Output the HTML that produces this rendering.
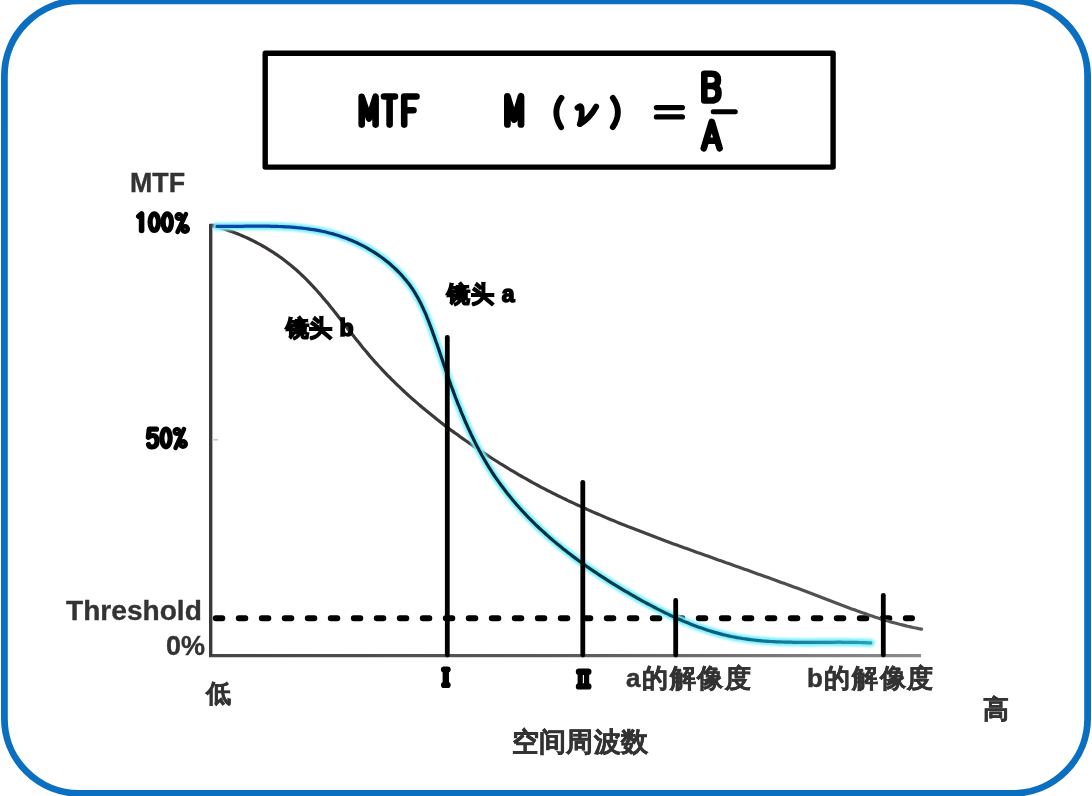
<!DOCTYPE html>
<html><head><meta charset="utf-8">
<style>
html,body{margin:0;padding:0;background:#fff;}
body{width:1092px;height:796px;position:relative;overflow:hidden;font-family:"Liberation Sans",sans-serif;}
svg{position:absolute;left:0;top:0;}
.t{position:absolute;white-space:nowrap;color:#333;font-weight:bold;line-height:1;will-change:transform;}
.cj{-webkit-text-stroke:0.5px #333;}
.lt{-webkit-text-stroke:0.35px #333;}
.hv{color:#000;-webkit-text-stroke:1.6px #000;}
</style></head><body>
<svg width="1092" height="796" viewBox="0 0 1092 796">
  <!-- outer rounded border -->
  <rect x="4.4" y="0.8" width="1083.2" height="792.6" rx="75" ry="75" fill="none" stroke="#0a6fc1" stroke-width="6.8"/>
  <!-- formula box -->
  <rect x="265.2" y="53.2" width="567.9" height="113.9" stroke-linejoin="round" fill="none" stroke="#000" stroke-width="5.4"/>
  <g fill="none" stroke="#000" stroke-linecap="round" stroke-linejoin="round">
    <!-- MTF -->
    <path d="M361.7,124.6 V96.7 L369,118.5 L375.6,96.7 V124.6" stroke-width="6.6"/>
    <path d="M384,96.5 H395 M389.6,96.5 V124.6" stroke-width="6.6"/>
    <path d="M404.2,124.6 V96.5 H416.5 M404.2,110.3 H413.5" stroke-width="6.6"/>
    <!-- M -->
    <path d="M507.4,124.4 V96.3 L514.2,119.5 L521,96.3 V124.4" stroke-width="6.8"/>
    <!-- ( v ) -->
    <path d="M561.5,97.8 Q551.3,112 561.1,127.2" stroke-width="5.8"/>
    <path d="M612.8,97.8 Q623,112 612.8,127.2" stroke-width="5.8"/>
    <path d="M577.5,107.8 Q580.5,104.5 581.5,108 Q582.5,117 579.8,124.2 Q590,118 596.2,106.5" stroke-width="5.8"/>
    <!-- = -->
    <path d="M656.5,107.6 H682.3 M656.5,116.9 H682.3" stroke-width="5.4"/>
    <!-- fraction bar -->
    <path d="M713.2,111.7 H735.3" stroke-width="5"/>
    <!-- B -->
    <path d="M704.3,100.5 V73.7 H711.5 Q718,73.7 718,80 Q718,86 711.5,86 H704.3 M711.5,86 Q718.5,86 718.5,93 Q718.5,100.5 711.5,100.5 H704.3" stroke-width="6.6"/>
    <!-- A -->
    <path d="M703.8,148.3 L711.8,121.8 L719.6,148.3 M707.5,140.8 H716" stroke-width="6.6"/>
    <!-- 100% -->
    <path d="M138.8,216.3 L141.6,214 V230.5" stroke-width="5.6"/>
    <ellipse cx="154.3" cy="222.1" rx="4.2" ry="8.3" stroke-width="5.2"/>
    <ellipse cx="167.3" cy="222.1" rx="4.2" ry="8.3" stroke-width="5.2"/>
    <path d="M186,214 L177.5,232" stroke-width="4.5"/>
    <circle cx="179" cy="216.5" r="2.6" stroke-width="4"/>
    <circle cx="185" cy="229" r="2.8" stroke-width="4.5"/>
    <!-- 50% -->
    <path d="M156.5,429.2 H149.2 L148.3,437.3 Q151,435.5 153,435.5 Q157,435.5 157,441 Q157,447 152,447 Q149,447 148.5,444.5" stroke-width="5.2"/>
    <ellipse cx="166" cy="438" rx="4.2" ry="8.8" stroke-width="5.3"/>
    <path d="M184,429 L175.5,448" stroke-width="4.5"/>
    <circle cx="177" cy="431.5" r="2.6" stroke-width="4"/>
    <circle cx="183" cy="444" r="2.8" stroke-width="4.5"/>
    <!-- roman numerals -->
    <path d="M444,669.6 H447.6 M445.8,670 V685 M444,685 H447.6" stroke-width="6.2"/><path d="M445.8,672 V683" stroke-width="5.8"/>
    <path d="M579,671.8 H588.3 M579,686.4 H588.3" stroke-width="6.4"/><path d="M580.2,672 V686.5 M586.6,672 V686.5" stroke-width="5.2"/>
  </g>
  <!-- axes -->
  <defs><linearGradient id="gray" gradientUnits="userSpaceOnUse" x1="210" y1="0" x2="921" y2="0">
      <stop offset="0" stop-color="#3a3638"/><stop offset="0.5" stop-color="#3d3a3e"/><stop offset="1" stop-color="#5a585a"/></linearGradient>
  <linearGradient id="xax" gradientUnits="userSpaceOnUse" x1="210" y1="0" x2="921" y2="0">
      <stop offset="0" stop-color="#444"/><stop offset="0.5" stop-color="#5a5a5a"/><stop offset="1" stop-color="#8c8c8c"/></linearGradient></defs>
  <path d="M209,655.6 H921" fill="none" stroke="url(#xax)" stroke-width="3.4"/>
  <path d="M210.7,655.5 V225.5 H218" fill="none" stroke="#3a3a3a" stroke-width="3.4" stroke-linejoin="round"/>
  <path d="M212,439.8 H218" stroke="#c8c8c8" stroke-width="1.6"/>
  <!-- threshold dashed -->
  <path d="M215.8,618.3 H912" fill="none" stroke="#000" stroke-width="6" stroke-linecap="round" stroke-dasharray="6.5 16.5"/>
  <!-- lens b curve -->
  <path d="M210.6,225.3 L213.3,225.9 L216.1,226.7 L218.8,227.4 L221.5,228.2 L224.2,229.1 L226.9,230.0 L229.6,230.9 L232.3,231.8 L234.9,232.8 L237.5,233.8 L240.1,234.9 L242.7,236.0 L245.3,237.1 L247.9,238.3 L250.4,239.5 L252.9,240.7 L255.4,242.0 L257.9,243.3 L260.4,244.6 L262.8,246.0 L265.2,247.4 L267.6,248.9 L270.0,250.3 L272.4,251.8 L274.7,253.4 L277.0,254.9 L279.3,256.5 L281.6,258.1 L283.8,259.8 L286.0,261.5 L288.2,263.2 L290.4,264.9 L292.5,266.7 L294.6,268.5 L296.7,270.3 L298.8,272.2 L300.8,274.1 L302.8,276.0 L304.8,277.9 L306.8,279.9 L308.7,281.9 L310.6,283.9 L312.5,285.9 L314.4,287.9 L316.3,290.0 L318.1,292.0 L320.0,294.1 L321.8,296.2 L323.6,298.4 L325.4,300.5 L327.2,302.6 L329.0,304.8 L330.7,307.0 L332.5,309.1 L334.2,311.3 L336.0,313.5 L337.7,315.7 L339.4,317.9 L341.1,320.1 L342.9,322.3 L344.6,324.5 L346.3,326.7 L348.0,329.0 L349.7,331.2 L351.5,333.4 L353.2,335.6 L354.9,337.8 L356.7,340.0 L358.4,342.1 L360.2,344.3 L361.9,346.5 L363.7,348.7 L365.5,350.8 L367.3,352.9 L369.1,355.1 L370.9,357.2 L372.7,359.3 L374.5,361.4 L376.4,363.4 L378.3,365.5 L380.2,367.5 L382.1,369.6 L384.0,371.6 L385.9,373.6 L387.8,375.6 L389.8,377.5 L391.7,379.5 L393.7,381.4 L395.7,383.4 L397.7,385.3 L399.7,387.2 L401.7,389.1 L403.7,391.0 L405.7,392.9 L407.8,394.8 L409.8,396.6 L411.9,398.5 L414.0,400.3 L416.1,402.1 L418.2,403.9 L420.3,405.7 L422.4,407.5 L424.6,409.3 L426.7,411.1 L428.8,412.8 L431.0,414.6 L433.2,416.3 L435.3,418.0 L437.5,419.8 L439.7,421.5 L441.9,423.2 L444.1,424.9 L446.4,426.6 L448.6,428.2 L450.8,429.9 L453.1,431.6 L455.3,433.2 L457.6,434.8 L459.8,436.5 L462.1,438.1 L464.4,439.7 L466.7,441.3 L469.0,442.9 L471.3,444.5 L473.6,446.1 L475.9,447.7 L478.2,449.3 L480.5,450.8 L482.9,452.4 L485.2,453.9 L487.5,455.4 L489.9,457.0 L492.2,458.5 L494.6,460.0 L497.0,461.5 L499.3,463.0 L501.7,464.5 L504.1,465.9 L506.5,467.4 L508.9,468.9 L511.3,470.3 L513.7,471.7 L516.1,473.1 L518.5,474.6 L521.0,476.0 L523.4,477.3 L525.8,478.7 L528.3,480.1 L530.7,481.5 L533.2,482.8 L535.6,484.1 L538.1,485.5 L540.5,486.8 L543.0,488.1 L545.5,489.4 L548.0,490.7 L550.5,491.9 L552.9,493.2 L555.4,494.4 L557.9,495.7 L560.4,496.9 L562.9,498.1 L565.4,499.3 L568.0,500.6 L570.5,501.7 L573.0,502.9 L575.5,504.1 L578.0,505.3 L580.6,506.4 L583.1,507.6 L585.7,508.7 L588.2,509.9 L590.7,511.0 L593.3,512.1 L595.8,513.2 L598.4,514.3 L601.0,515.4 L603.5,516.5 L606.1,517.6 L608.6,518.7 L611.2,519.8 L613.8,520.8 L616.4,521.9 L618.9,522.9 L621.5,524.0 L624.1,525.0 L626.7,526.0 L629.3,527.1 L631.9,528.1 L634.5,529.1 L637.1,530.1 L639.7,531.1 L642.3,532.1 L644.9,533.1 L647.5,534.1 L650.1,535.1 L652.7,536.1 L655.3,537.1 L657.9,538.1 L660.5,539.0 L663.1,540.0 L665.7,541.0 L668.4,541.9 L671.0,542.9 L673.6,543.9 L676.2,544.8 L678.8,545.8 L681.5,546.7 L684.1,547.7 L686.7,548.6 L689.3,549.6 L692.0,550.5 L694.6,551.4 L697.2,552.4 L699.8,553.3 L702.5,554.3 L705.1,555.2 L707.7,556.1 L710.4,557.1 L713.0,558.0 L715.6,558.9 L718.2,559.9 L720.9,560.8 L723.5,561.7 L726.1,562.7 L728.8,563.6 L731.4,564.5 L734.0,565.5 L736.7,566.4 L739.3,567.3 L741.9,568.2 L744.5,569.2 L747.2,570.1 L749.8,571.1 L752.4,572.0 L755.1,572.9 L757.7,573.9 L760.3,574.8 L762.9,575.7 L765.6,576.7 L768.2,577.6 L770.8,578.6 L773.4,579.5 L776.1,580.5 L778.7,581.4 L781.3,582.4 L783.9,583.3 L786.5,584.3 L789.2,585.2 L791.8,586.2 L794.4,587.2 L797.0,588.1 L799.6,589.1 L802.2,590.1 L804.9,591.1 L807.5,592.0 L810.1,593.0 L812.7,594.0 L815.3,595.0 L817.9,596.0 L820.5,597.0 L823.1,598.0 L825.7,599.0 L828.3,600.0 L830.9,601.0 L833.5,602.0 L836.1,603.0 L838.7,604.0 L841.3,605.0 L844.0,605.9 L846.6,606.9 L849.2,607.9 L851.8,608.9 L854.4,609.8 L857.0,610.8 L859.6,611.7 L862.3,612.7 L864.9,613.6 L867.5,614.5 L870.2,615.4 L872.8,616.3 L875.5,617.2 L878.1,618.0 L880.8,618.9 L883.4,619.7 L886.1,620.5 L888.8,621.3 L891.5,622.1 L894.1,622.8 L896.8,623.5 L899.5,624.3 L902.3,624.9 L905.0,625.6 L907.7,626.3 L910.4,626.9 L913.2,627.5 L915.9,628.0 L918.7,628.6 L921.5,629.1" fill="none" stroke="url(#gray)" stroke-width="3.2" stroke-linecap="round"/>
  <!-- lens a curve -->
  <defs>
    <linearGradient id="core" gradientUnits="userSpaceOnUse" x1="210" y1="0" x2="872" y2="0">
      <stop offset="0" stop-color="#0a48b0"/>
      <stop offset="0.15" stop-color="#0a42a0"/>
      <stop offset="0.25" stop-color="#062c50"/>
      <stop offset="0.4" stop-color="#04283a"/>
      <stop offset="0.6" stop-color="#053848"/>
      <stop offset="0.8" stop-color="#0a6888"/>
      <stop offset="1" stop-color="#2aa0b8"/>
    </linearGradient>
    <filter id="blur1" x="-5%" y="-5%" width="110%" height="110%"><feGaussianBlur stdDeviation="0.9"/></filter>
  </defs>
  <path d="M216.9,226.4 L219.8,226.4 L222.7,226.4 L225.5,226.4 L228.4,226.4 L231.3,226.4 L234.1,226.3 L237.0,226.3 L239.9,226.3 L242.7,226.3 L245.6,226.2 L248.5,226.2 L251.3,226.2 L254.2,226.2 L257.1,226.2 L259.9,226.2 L262.8,226.2 L265.6,226.2 L268.5,226.2 L271.4,226.3 L274.2,226.3 L277.1,226.4 L279.9,226.5 L282.7,226.6 L285.6,226.8 L288.4,226.9 L291.2,227.1 L294.0,227.3 L296.9,227.6 L299.7,227.8 L302.5,228.2 L305.3,228.5 L308.1,228.9 L310.8,229.3 L313.6,229.7 L316.4,230.2 L319.2,230.7 L321.9,231.2 L324.7,231.8 L327.4,232.5 L330.1,233.2 L332.9,233.9 L335.6,234.7 L338.3,235.5 L341.0,236.4 L343.7,237.4 L346.3,238.3 L349.0,239.4 L351.7,240.5 L354.3,241.6 L356.9,242.8 L359.5,244.1 L362.1,245.4 L364.6,246.7 L367.2,248.1 L369.7,249.6 L372.2,251.0 L374.6,252.6 L377.0,254.2 L379.4,255.8 L381.8,257.5 L384.1,259.2 L386.3,261.0 L388.6,262.8 L390.8,264.7 L392.9,266.6 L395.0,268.5 L397.1,270.5 L399.1,272.5 L401.1,274.6 L403.0,276.7 L404.8,278.9 L406.6,281.0 L408.4,283.3 L410.1,285.5 L411.7,287.9 L413.3,290.2 L414.8,292.6 L416.2,295.0 L417.6,297.4 L419.0,299.9 L420.3,302.4 L421.5,304.9 L422.7,307.5 L423.9,310.1 L425.1,312.6 L426.2,315.2 L427.2,317.9 L428.3,320.5 L429.3,323.1 L430.3,325.8 L431.3,328.4 L432.3,331.1 L433.2,333.7 L434.2,336.4 L435.1,339.0 L436.0,341.7 L437.0,344.3 L437.9,347.0 L438.8,349.6 L439.7,352.3 L440.6,355.0 L441.5,357.6 L442.4,360.3 L443.3,363.0 L444.2,365.7 L445.1,368.3 L446.0,371.0 L446.9,373.7 L447.9,376.4 L448.8,379.1 L449.8,381.8 L450.7,384.5 L451.7,387.2 L452.7,389.9 L453.7,392.6 L454.7,395.3 L455.7,398.0 L456.8,400.6 L457.8,403.3 L458.9,406.0 L460.0,408.7 L461.0,411.4 L462.1,414.0 L463.3,416.7 L464.4,419.3 L465.5,422.0 L466.7,424.6 L467.9,427.3 L469.1,429.9 L470.3,432.5 L471.5,435.1 L472.8,437.7 L474.0,440.3 L475.3,442.9 L476.6,445.4 L478.0,448.0 L479.3,450.5 L480.7,453.0 L482.0,455.5 L483.5,458.0 L484.9,460.5 L486.3,462.9 L487.8,465.4 L489.3,467.8 L490.8,470.2 L492.3,472.6 L493.9,475.0 L495.5,477.3 L497.1,479.6 L498.7,481.9 L500.4,484.2 L502.1,486.5 L503.8,488.8 L505.5,491.0 L507.2,493.2 L509.0,495.4 L510.7,497.6 L512.5,499.8 L514.4,502.0 L516.2,504.1 L518.1,506.2 L519.9,508.3 L521.8,510.4 L523.7,512.5 L525.7,514.5 L527.6,516.6 L529.6,518.6 L531.6,520.6 L533.6,522.6 L535.6,524.6 L537.6,526.5 L539.7,528.5 L541.8,530.4 L543.9,532.3 L546.0,534.2 L548.1,536.1 L550.2,538.0 L552.3,539.8 L554.5,541.6 L556.7,543.5 L558.9,545.3 L561.1,547.1 L563.3,548.9 L565.5,550.6 L567.8,552.4 L570.0,554.1 L572.3,555.9 L574.6,557.6 L576.8,559.3 L579.1,561.0 L581.5,562.6 L583.8,564.3 L586.1,566.0 L588.5,567.6 L590.8,569.2 L593.2,570.8 L595.6,572.4 L597.9,574.0 L600.3,575.6 L602.7,577.2 L605.1,578.7 L607.6,580.3 L610.0,581.8 L612.4,583.3 L614.9,584.8 L617.3,586.3 L619.8,587.8 L622.2,589.3 L624.7,590.8 L627.2,592.2 L629.6,593.7 L632.1,595.1 L634.6,596.5 L637.1,598.0 L639.6,599.4 L642.1,600.8 L644.6,602.1 L647.1,603.5 L649.7,604.9 L652.2,606.2 L654.7,607.5 L657.3,608.9 L659.8,610.1 L662.4,611.4 L664.9,612.7 L667.5,613.9 L670.1,615.2 L672.6,616.4 L675.2,617.5 L677.8,618.7 L680.4,619.8 L683.0,621.0 L685.6,622.1 L688.3,623.1 L690.9,624.2 L693.5,625.2 L696.2,626.2 L698.8,627.2 L701.5,628.1 L704.2,629.0 L706.8,629.9 L709.5,630.8 L712.2,631.6 L714.9,632.4 L717.6,633.1 L720.4,633.9 L723.1,634.6 L725.8,635.2 L728.6,635.9 L731.3,636.5 L734.1,637.0 L736.9,637.6 L739.7,638.0 L742.5,638.5 L745.3,638.9 L748.1,639.3 L750.9,639.7 L753.7,640.0 L756.6,640.3 L759.4,640.6 L762.3,640.9 L765.1,641.1 L768.0,641.3 L770.9,641.5 L773.7,641.6 L776.6,641.8 L779.5,641.9 L782.3,642.0 L785.2,642.1 L788.1,642.2 L791.0,642.2 L793.9,642.3 L796.8,642.3 L799.7,642.3 L802.5,642.4 L805.4,642.4 L808.3,642.4 L811.2,642.4 L814.1,642.4 L817.0,642.3 L819.8,642.3 L822.7,642.3 L825.6,642.3 L828.4,642.3 L831.3,642.3 L834.2,642.3 L837.0,642.2 L839.9,642.2 L842.7,642.3 L845.5,642.3 L848.4,642.3 L851.2,642.3 L854.0,642.4 L856.8,642.4 L859.6,642.5 L862.4,642.6 L865.1,642.7 L867.9,642.8 L870.7,642.9" fill="none" stroke="#7ff0fb" stroke-width="8" stroke-linecap="round" filter="url(#blur1)"/>
  <path d="M216.9,226.4 L219.8,226.4 L222.7,226.4 L225.5,226.4 L228.4,226.4 L231.3,226.4 L234.1,226.3 L237.0,226.3 L239.9,226.3 L242.7,226.3 L245.6,226.2 L248.5,226.2 L251.3,226.2 L254.2,226.2 L257.1,226.2 L259.9,226.2 L262.8,226.2 L265.6,226.2 L268.5,226.2 L271.4,226.3 L274.2,226.3 L277.1,226.4 L279.9,226.5 L282.7,226.6 L285.6,226.8 L288.4,226.9 L291.2,227.1 L294.0,227.3 L296.9,227.6 L299.7,227.8 L302.5,228.2 L305.3,228.5 L308.1,228.9 L310.8,229.3 L313.6,229.7 L316.4,230.2 L319.2,230.7 L321.9,231.2 L324.7,231.8 L327.4,232.5 L330.1,233.2 L332.9,233.9 L335.6,234.7 L338.3,235.5 L341.0,236.4 L343.7,237.4 L346.3,238.3 L349.0,239.4 L351.7,240.5 L354.3,241.6 L356.9,242.8 L359.5,244.1 L362.1,245.4 L364.6,246.7 L367.2,248.1 L369.7,249.6 L372.2,251.0 L374.6,252.6 L377.0,254.2 L379.4,255.8 L381.8,257.5 L384.1,259.2 L386.3,261.0 L388.6,262.8 L390.8,264.7 L392.9,266.6 L395.0,268.5 L397.1,270.5 L399.1,272.5 L401.1,274.6 L403.0,276.7 L404.8,278.9 L406.6,281.0 L408.4,283.3 L410.1,285.5 L411.7,287.9 L413.3,290.2 L414.8,292.6 L416.2,295.0 L417.6,297.4 L419.0,299.9 L420.3,302.4 L421.5,304.9 L422.7,307.5 L423.9,310.1 L425.1,312.6 L426.2,315.2 L427.2,317.9 L428.3,320.5 L429.3,323.1 L430.3,325.8 L431.3,328.4 L432.3,331.1 L433.2,333.7 L434.2,336.4 L435.1,339.0 L436.0,341.7 L437.0,344.3 L437.9,347.0 L438.8,349.6 L439.7,352.3 L440.6,355.0 L441.5,357.6 L442.4,360.3 L443.3,363.0 L444.2,365.7 L445.1,368.3 L446.0,371.0 L446.9,373.7 L447.9,376.4 L448.8,379.1 L449.8,381.8 L450.7,384.5 L451.7,387.2 L452.7,389.9 L453.7,392.6 L454.7,395.3 L455.7,398.0 L456.8,400.6 L457.8,403.3 L458.9,406.0 L460.0,408.7 L461.0,411.4 L462.1,414.0 L463.3,416.7 L464.4,419.3 L465.5,422.0 L466.7,424.6 L467.9,427.3 L469.1,429.9 L470.3,432.5 L471.5,435.1 L472.8,437.7 L474.0,440.3 L475.3,442.9 L476.6,445.4 L478.0,448.0 L479.3,450.5 L480.7,453.0 L482.0,455.5 L483.5,458.0 L484.9,460.5 L486.3,462.9 L487.8,465.4 L489.3,467.8 L490.8,470.2 L492.3,472.6 L493.9,475.0 L495.5,477.3 L497.1,479.6 L498.7,481.9 L500.4,484.2 L502.1,486.5 L503.8,488.8 L505.5,491.0 L507.2,493.2 L509.0,495.4 L510.7,497.6 L512.5,499.8 L514.4,502.0 L516.2,504.1 L518.1,506.2 L519.9,508.3 L521.8,510.4 L523.7,512.5 L525.7,514.5 L527.6,516.6 L529.6,518.6 L531.6,520.6 L533.6,522.6 L535.6,524.6 L537.6,526.5 L539.7,528.5 L541.8,530.4 L543.9,532.3 L546.0,534.2 L548.1,536.1 L550.2,538.0 L552.3,539.8 L554.5,541.6 L556.7,543.5 L558.9,545.3 L561.1,547.1 L563.3,548.9 L565.5,550.6 L567.8,552.4 L570.0,554.1 L572.3,555.9 L574.6,557.6 L576.8,559.3 L579.1,561.0 L581.5,562.6 L583.8,564.3 L586.1,566.0 L588.5,567.6 L590.8,569.2 L593.2,570.8 L595.6,572.4 L597.9,574.0 L600.3,575.6 L602.7,577.2 L605.1,578.7 L607.6,580.3 L610.0,581.8 L612.4,583.3 L614.9,584.8 L617.3,586.3 L619.8,587.8 L622.2,589.3 L624.7,590.8 L627.2,592.2 L629.6,593.7 L632.1,595.1 L634.6,596.5 L637.1,598.0 L639.6,599.4 L642.1,600.8 L644.6,602.1 L647.1,603.5 L649.7,604.9 L652.2,606.2 L654.7,607.5 L657.3,608.9 L659.8,610.1 L662.4,611.4 L664.9,612.7 L667.5,613.9 L670.1,615.2 L672.6,616.4 L675.2,617.5 L677.8,618.7 L680.4,619.8 L683.0,621.0 L685.6,622.1 L688.3,623.1 L690.9,624.2 L693.5,625.2 L696.2,626.2 L698.8,627.2 L701.5,628.1 L704.2,629.0 L706.8,629.9 L709.5,630.8 L712.2,631.6 L714.9,632.4 L717.6,633.1 L720.4,633.9 L723.1,634.6 L725.8,635.2 L728.6,635.9 L731.3,636.5 L734.1,637.0 L736.9,637.6 L739.7,638.0 L742.5,638.5 L745.3,638.9 L748.1,639.3 L750.9,639.7 L753.7,640.0 L756.6,640.3 L759.4,640.6 L762.3,640.9 L765.1,641.1 L768.0,641.3 L770.9,641.5 L773.7,641.6 L776.6,641.8 L779.5,641.9 L782.3,642.0 L785.2,642.1 L788.1,642.2 L791.0,642.2 L793.9,642.3 L796.8,642.3 L799.7,642.3 L802.5,642.4 L805.4,642.4 L808.3,642.4 L811.2,642.4 L814.1,642.4 L817.0,642.3 L819.8,642.3 L822.7,642.3 L825.6,642.3 L828.4,642.3 L831.3,642.3 L834.2,642.3 L837.0,642.2 L839.9,642.2 L842.7,642.3 L845.5,642.3 L848.4,642.3 L851.2,642.3 L854.0,642.4 L856.8,642.4 L859.6,642.5 L862.4,642.6 L865.1,642.7 L867.9,642.8 L870.7,642.9" fill="none" stroke="url(#core)" stroke-width="3.2" stroke-linecap="round"/>
  <!-- vertical lines -->
  <g stroke="#000" stroke-width="4.8" stroke-linecap="round">
    <path d="M447.3,337.3 V655"/>
    <path d="M582.8,482.3 V655"/>
    <path d="M675.7,600.5 V655"/>
    <path d="M883.3,595.3 V655"/>
  </g>
</svg>
<div class="t lt" style="left:130px;top:169.5px;font-size:26.8px;">MTF</div>
<div class="t lt" style="left:66px;top:597px;font-size:28.1px;">Threshold</div>
<div class="t lt" style="left:166px;top:633px;font-size:27px;">0%</div>
<div class="t cj" style="left:205.5px;top:680.5px;font-size:25px;">低</div>
<div class="t cj" style="left:625.5px;top:665px;font-size:26px;letter-spacing:1.6px;">a的解像度</div>
<div class="t cj" style="left:807px;top:665px;font-size:26px;letter-spacing:1.6px;">b的解像度</div>
<div class="t cj" style="left:982.5px;top:695.5px;font-size:26px;">高</div>
<div class="t cj" style="left:511.5px;top:728.5px;font-size:27px;letter-spacing:0.2px;">空间周波数</div>
<div class="t hv" style="left:286px;top:316.5px;font-size:23px;letter-spacing:0.4px;">镜头 b</div>
<div class="t hv" style="left:447px;top:283px;font-size:23px;letter-spacing:0.8px;">镜头 a</div>
</body></html>
